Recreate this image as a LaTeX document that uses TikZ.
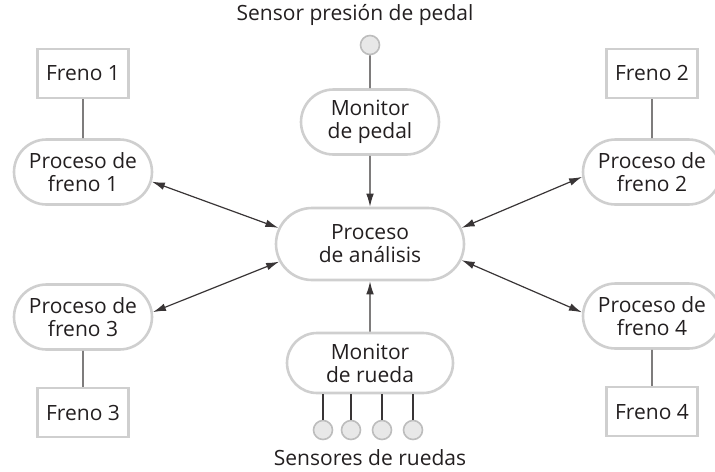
\documentclass[tikz,border=0pt]{standalone}
\usepackage{fontspec}
\setmainfont{Open Sans}
\usepackage{tikz}
\usetikzlibrary{arrows.meta,positioning,shapes.misc}
\definecolor{ink}{HTML}{231F20}
\definecolor{edge}{HTML}{CFCFCF}
\definecolor{dotfill}{HTML}{E8E8E8}
\definecolor{dotline}{HTML}{BDBDBD}
\tikzset{
  procbox/.style={
    rounded rectangle, draw=edge, line width=1.3pt, fill=white,
    minimum width=#1, minimum height=32.5pt,
    align=center, inner sep=2pt
  },
  procbox/.default=73pt,
  brakebox/.style={rectangle, draw=edge, line width=1.3pt,
    minimum width=45.5pt, minimum height=24.5pt},
  sensordot/.style={circle, draw=dotline, fill=dotfill, line width=0.8pt,
    minimum size=9.5pt, inner sep=0pt},
  wire/.style={draw=ink!90, line width=0.6pt},
  dataarrow/.style={
    {Latex[length=6.5pt,width=3.8pt]}-{Latex[length=6.5pt,width=3.8pt]}, wire
  },
  onearrow/.style={-{Latex[length=6.5pt,width=3.8pt]}, wire},
}
\begin{document}
\begin{tikzpicture}[x=0.5pt, y=-0.5pt, text=ink,
    font=\fontsize{10.5}{11.5}\selectfont]
  \useasboundingbox (0,0) rectangle (715,471);
  % centre column
  \node (sensorlbl) at (355,15) {Sensor presión de pedal};
  \node[sensordot] (spedal) at (370,45) {};
  \node[procbox=73pt] (monped) at (370,122) {Monitor\\de pedal};
  \node[procbox=98pt, minimum height=36pt] (analisis) at (370,244) {Proceso\\de análisis};
  \node[procbox=87pt, minimum height=30pt] (monrue) at (370,363) {Monitor\\de rueda};
  \node (wheellbl) at (370,458) {Sensores de ruedas};
  % brake processes
  \node[procbox] (pf1) at (83,172) {Proceso de\\freno 1};
  \node[procbox] (pf2) at (652,172) {Proceso de\\freno 2};
  \node[procbox] (pf3) at (83,317) {Proceso de\\freno 3};
  \node[procbox] (pf4) at (652,316) {Proceso de\\freno 4};
  \node[brakebox, above=19.5pt of pf1] (f1) {Freno 1};
  \node[brakebox, above=19.5pt of pf2] (f2) {Freno 2};
  \node[brakebox, below=18pt of pf3] (f3) {Freno 3};
  \node[brakebox, below=18pt of pf4] (f4) {Freno 4};
  % wheel sensors
  \foreach \i/\x in {1/323,2/351,3/382,4/413} {
    \node[sensordot] (ws\i) at (\x,430) {};
    \draw[wire] (ws\i) -- (ws\i |- monrue.south);
  }
  \draw[wire] (spedal) -- (monped);
  \draw[wire] (f1) -- (pf1);
  \draw[wire] (f2) -- (pf2);
  \draw[wire] (f3) -- (pf3);
  \draw[wire] (f4) -- (pf4);
  \draw[onearrow] (monped) -- (analisis);
  \draw[onearrow] (monrue) -- (analisis);
  \draw[dataarrow] (pf1.-8) -- (analisis.170);
  \draw[dataarrow] (pf2.184) -- (analisis.10);
  \draw[dataarrow] (pf3.4) -- (analisis.191);
  \draw[dataarrow] (pf4.177) -- (analisis.350);
\end{tikzpicture}
\end{document}
